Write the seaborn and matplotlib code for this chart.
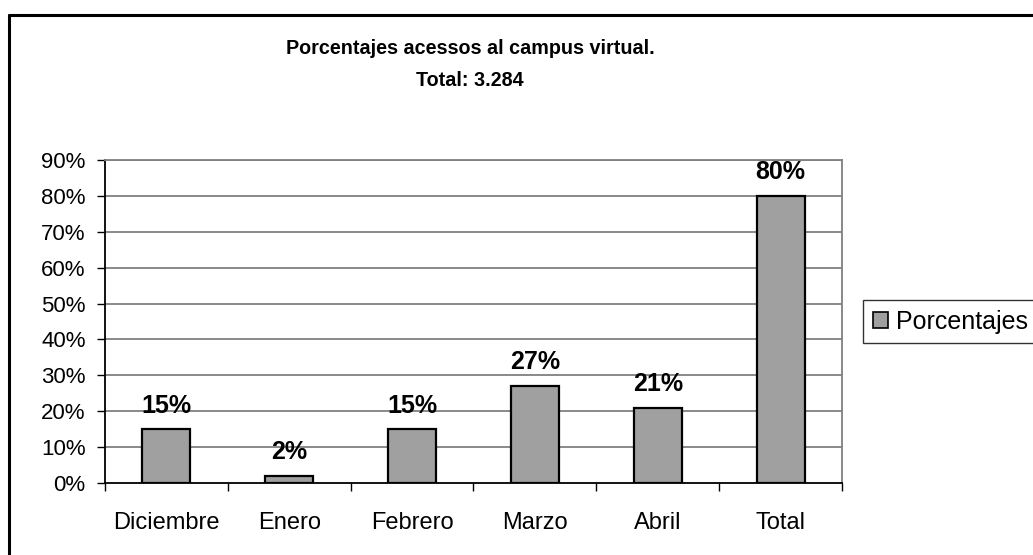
import matplotlib
matplotlib.use("Agg")
import matplotlib.pyplot as plt
import seaborn as sns
import pandas as pd
from matplotlib.lines import Line2D
from matplotlib.patches import Patch

categories = ["Diciembre", "Enero", "Febrero", "Marzo", "Abril", "Total"]
values = [15, 2, 15, 27, 21, 80]
series_name = "Porcentajes"
title_lines = ["Porcentajes acessos al campus virtual.", "Total: 3.284"]
yticks = [0, 10, 20, 30, 40, 50, 60, 70, 80, 90]

sns.set_style("white")
plt.rcParams["font.family"] = ["Liberation Sans", "DejaVu Sans"]
plt.rcParams["text.color"] = "black"
plt.rcParams["xtick.labelcolor"] = "black"
plt.rcParams["ytick.labelcolor"] = "black"

W, H = 1033, 555
fig = plt.figure(figsize=(W / 100, H / 100), dpi=100)
ax = fig.add_axes([105 / W, 1 - 483 / H, (842 - 105) / W, (483 - 160) / H])

df = pd.DataFrame({"cat": categories, "val": values})
sns.barplot(data=df, x="cat", y="val", ax=ax, color="#a0a0a0", width=0.39,
            edgecolor="black", linewidth=1.6, saturation=1, zorder=3)

ax.set_ylim(0, 90)
ax.set_xlim(-0.5, len(categories) - 0.5)
ax.set_yticks(yticks)
ax.set_yticklabels([f"{v}%" for v in yticks])
ax.set_xlabel("")
ax.set_ylabel("")

# gridlines
for v in yticks[1:]:
    ax.axhline(v, color="#808080", linewidth=1.3, zorder=1)

# x ticks at category boundaries, labels at centers
ax.set_xticks(range(len(categories)))
ax.set_xticklabels(categories)
ax.tick_params(axis="x", length=0, pad=21, labelsize=17, labelcolor="black")
ax.set_xticks([i - 0.5 for i in range(len(categories) + 1)], minor=True)
ax.tick_params(axis="x", which="minor", length=6, width=1, color="black", direction="out", bottom=True)
ax.tick_params(axis="y", length=6, width=1, color="black", direction="out", left=True, pad=8,
               labelsize=16, labelcolor="black")

for s in ["left", "bottom"]:
    ax.spines[s].set_color("black")
    ax.spines[s].set_linewidth(1.3)
for s in ["top", "right"]:
    ax.spines[s].set_color("#808080")
    ax.spines[s].set_linewidth(1.3)
    ax.spines[s].set_visible(True)

for i, v in enumerate(values):
    ax.annotate(f"{v}%", xy=(i, v), xytext=(0, 17), textcoords="offset points",
                ha="center", va="center", fontsize=18, fontweight="bold", color="black")

fig.text(470 / W, 1 - 48 / H, title_lines[0], ha="center", va="center",
         fontsize=14.2, fontweight="bold", color="black")
fig.text(470 / W, 1 - 80 / H, title_lines[1], ha="center", va="center",
         fontsize=14.2, fontweight="bold", color="black")

handle = Patch(facecolor="#a0a0a0", edgecolor="black", linewidth=1.2)
leg = fig.legend([handle], [series_name], loc="upper left",
                 bbox_to_anchor=(863 / W, 1 - 300 / H), fontsize=18,
                 frameon=True, fancybox=False, handlelength=0.6, handleheight=0.6,
                 handletextpad=0.35, borderpad=0.38, borderaxespad=0)
leg.get_frame().set_edgecolor("black")
leg.get_frame().set_linewidth(1.0)
for t in leg.get_texts():
    t.set_color("black")

# outer chart border (left and top visible)
fig.add_artist(Line2D([9 / W, 9 / W], [0, 1 - 15 / H], color="black", linewidth=2.2,
                      transform=fig.transFigure))
fig.add_artist(Line2D([9 / W, 1], [1 - 15 / H, 1 - 15 / H], color="black", linewidth=2.2,
                      transform=fig.transFigure))

fig.savefig("out.png", dpi=100)
